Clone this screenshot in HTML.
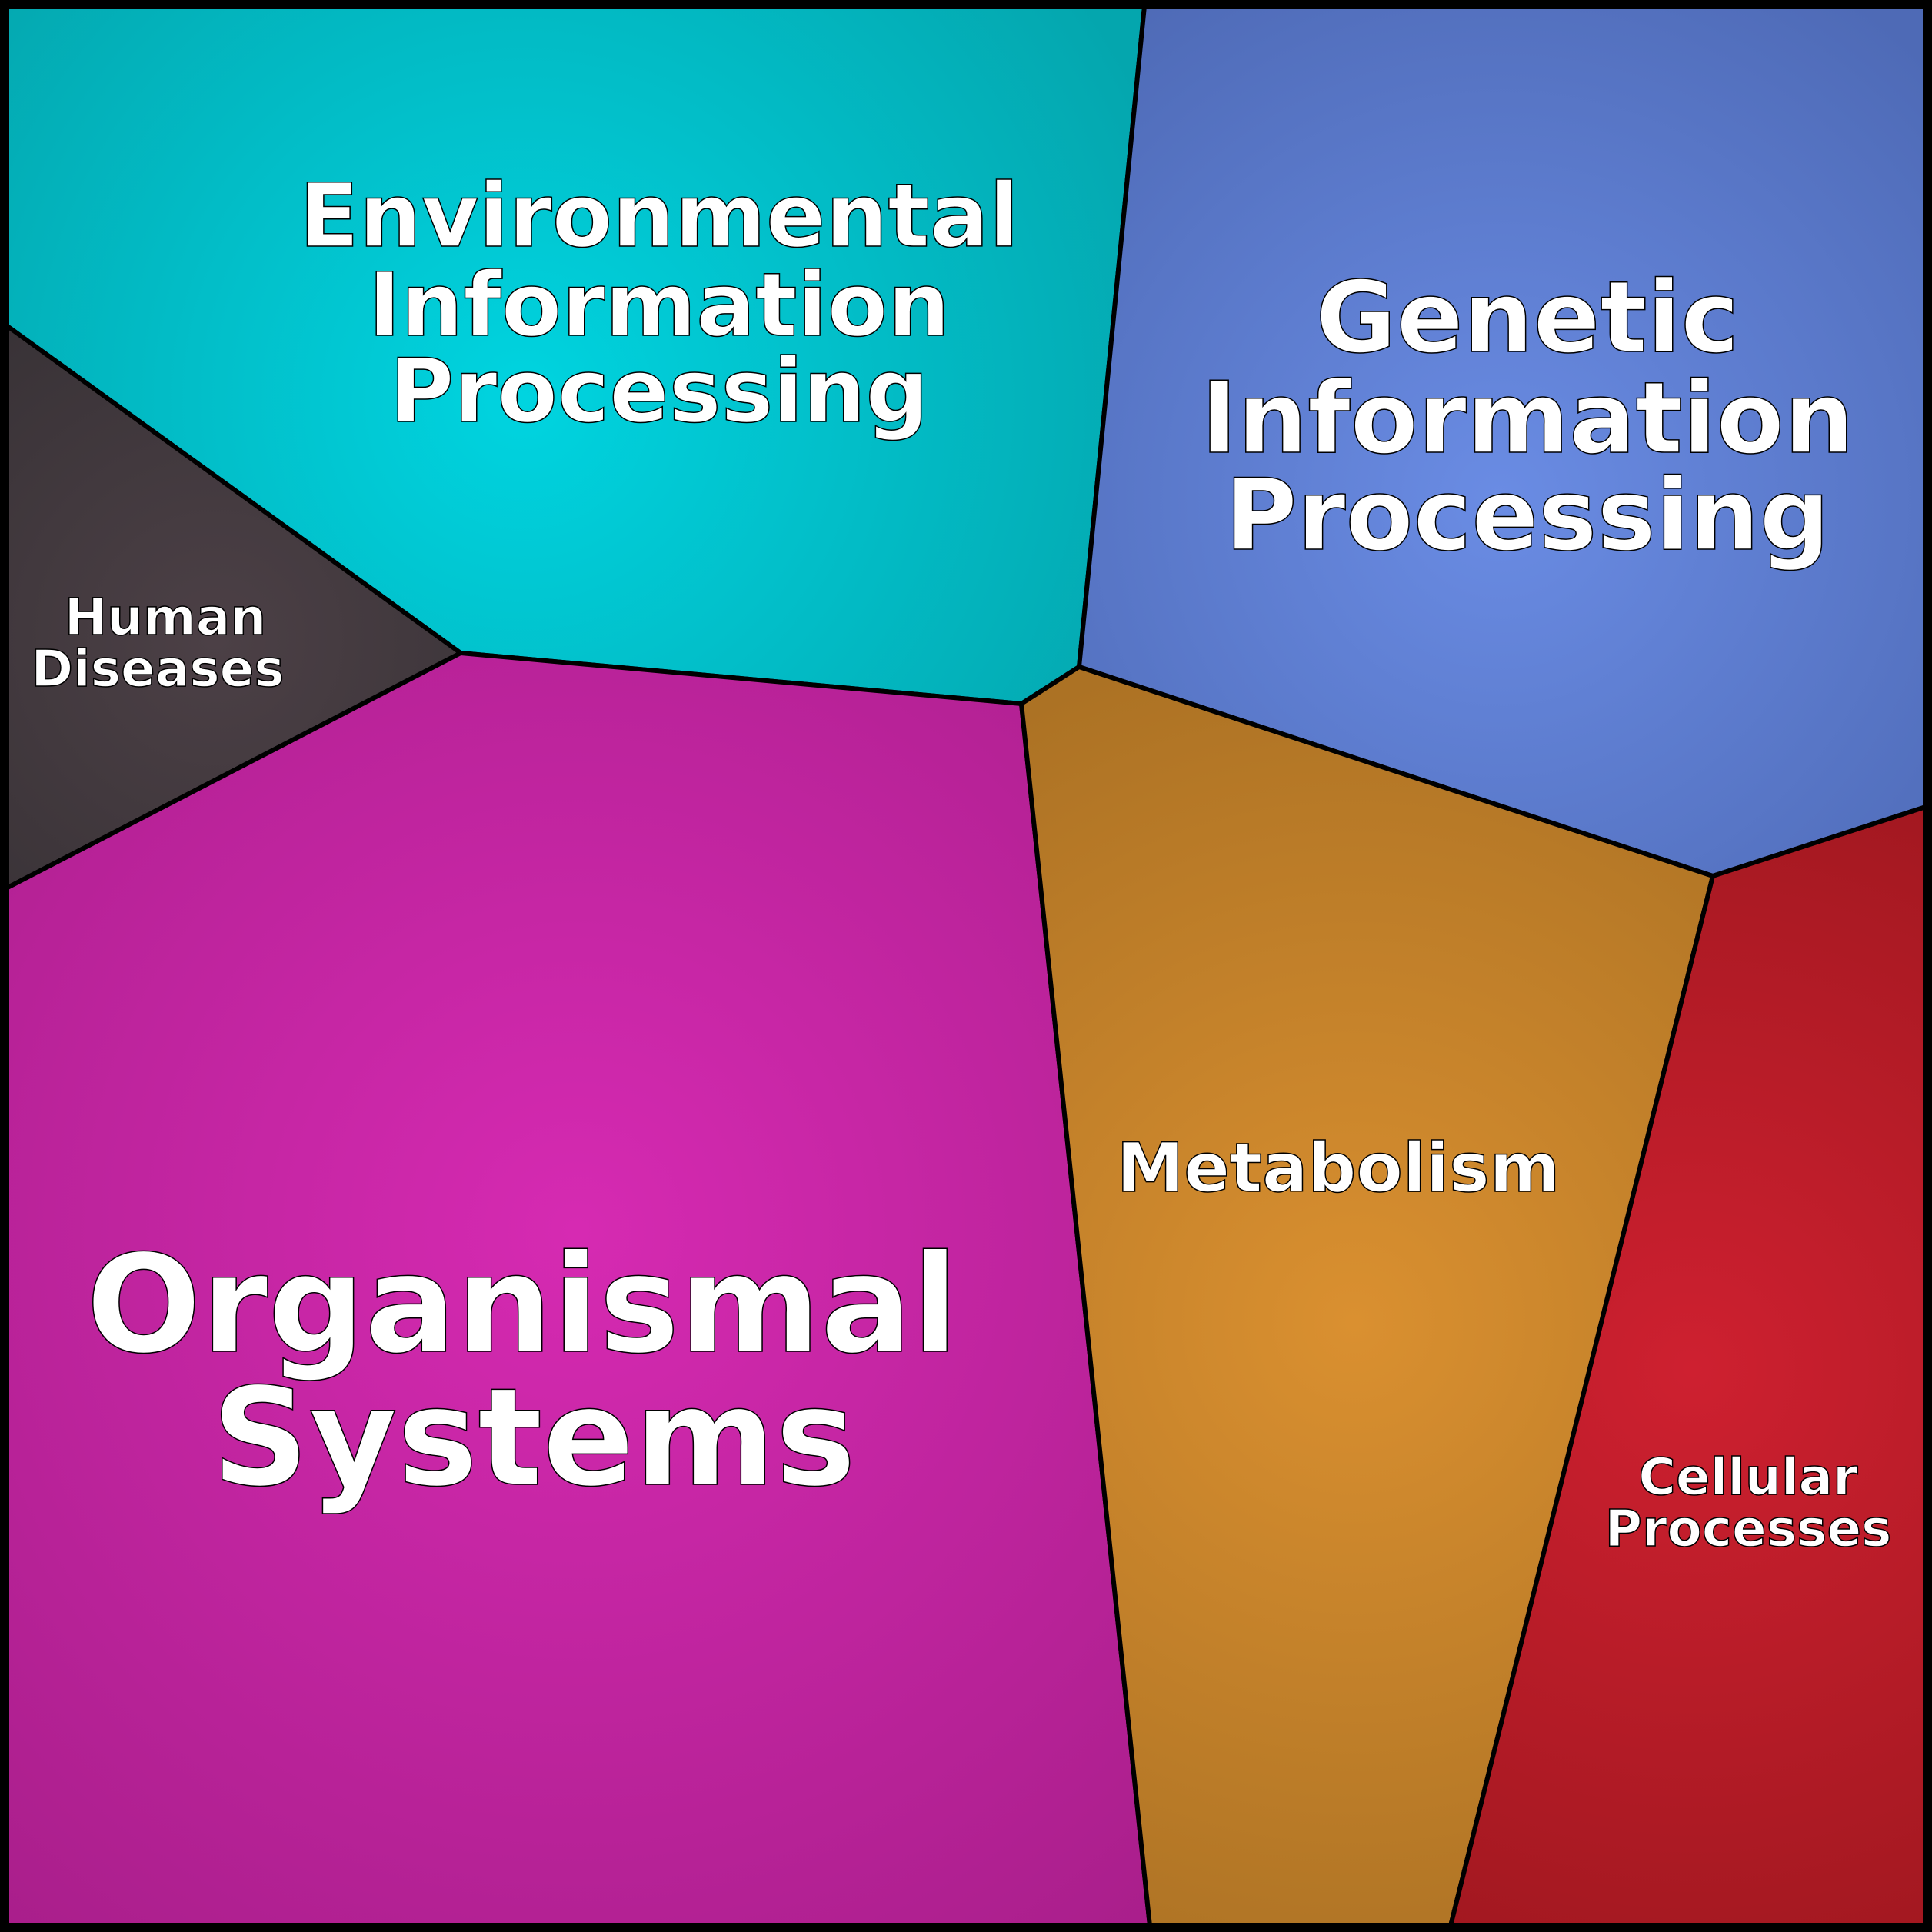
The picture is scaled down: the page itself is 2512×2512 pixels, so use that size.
<!DOCTYPE html>
<html><head><meta charset="utf-8"><style>html,body{margin:0;padding:0;background:#fff}svg{display:block}</style></head><body>
<svg width="2512" height="2512" viewBox="0 0 2512 2512" xmlns="http://www.w3.org/2000/svg">
<defs>
<radialGradient id="gEnv" gradientUnits="userSpaceOnUse" cx="680" cy="520" r="900"><stop offset="0" stop-color="#00d4e0"/><stop offset="1" stop-color="#04a6ae"/></radialGradient>
<radialGradient id="gGen" gradientUnits="userSpaceOnUse" cx="1950" cy="650" r="800"><stop offset="0" stop-color="#6a8ce4"/><stop offset="1" stop-color="#4e6ab6"/></radialGradient>
<radialGradient id="gHum" gradientUnits="userSpaceOnUse" cx="280" cy="830" r="500"><stop offset="0" stop-color="#4c4046"/><stop offset="1" stop-color="#383236"/></radialGradient>
<radialGradient id="gOrg" gradientUnits="userSpaceOnUse" cx="750" cy="1600" r="1200"><stop offset="0" stop-color="#d62ab2"/><stop offset="1" stop-color="#a81e8a"/></radialGradient>
<radialGradient id="gMet" gradientUnits="userSpaceOnUse" cx="1760" cy="1720" r="900"><stop offset="0" stop-color="#da9030"/><stop offset="1" stop-color="#ac7224"/></radialGradient>
<radialGradient id="gCel" gradientUnits="userSpaceOnUse" cx="2200" cy="1780" r="800"><stop offset="0" stop-color="#ce2030"/><stop offset="1" stop-color="#a21820"/></radialGradient>
</defs>
<g stroke="#000" stroke-width="6" stroke-linejoin="round">
<polygon fill="url(#gEnv)" points="8,8 1488,8 1403,867 1328,915 599,849 8,423"/>
<polygon fill="url(#gGen)" points="1488,8 2504,8 2504,1049 2227,1139 1403,867"/>
<polygon fill="url(#gHum)" points="8,423 599,849 8,1155"/>
<polygon fill="url(#gOrg)" points="8,1155 599,849 1328,915 1495,2504 8,2504"/>
<polygon fill="url(#gMet)" points="1328,915 1403,867 2227,1139 1886,2504 1495,2504"/>
<polygon fill="url(#gCel)" points="2227,1139 2504,1049 2504,2504 1886,2504"/>
</g>
<rect x="6" y="6" width="2500" height="2500" fill="none" stroke="#000" stroke-width="12"/>
<g font-family="'DejaVu Sans','Liberation Sans',sans-serif" font-weight="bold" fill="#fff" stroke="#000" stroke-width="1.5" text-anchor="middle">
<text font-size="114" x="857" y="320">Environmental</text>
<text font-size="114" x="857" y="436">Information</text>
<text font-size="114" x="857" y="548">Processing</text>
<text font-size="128" x="1986" y="457">Genetic</text>
<text font-size="128" x="1986" y="588">Information</text>
<text font-size="128" x="1986" y="714">Processing</text>
<text font-size="66" x="215" y="825">Human</text>
<text font-size="66" x="205" y="892">Diseases</text>
<text font-size="176" x="679" y="1757">Organismal</text>
<text font-size="176" x="694" y="1930">Systems</text>
<text font-size="88" x="1740" y="1549">Metabolism</text>
<text font-size="66" x="2273" y="1943">Cellular</text>
<text font-size="66" x="2273" y="2010">Processes</text>
</g>
</svg>
</body></html>
